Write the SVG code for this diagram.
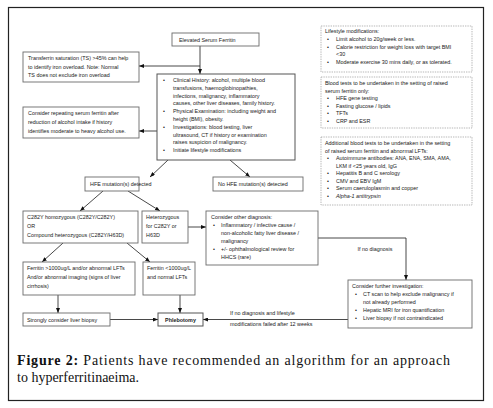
<svg xmlns="http://www.w3.org/2000/svg" width="493" height="408" viewBox="0 0 493 408">
<defs>
<marker id="ah" markerUnits="userSpaceOnUse" markerWidth="5" markerHeight="4" refX="5" refY="2" orient="auto">
<path d="M0,0 L5,2 L0,4 z" fill="#111"/>
</marker>
<style>
.b{fill:#fff;stroke:#6a6a6a;stroke-width:0.9}
.m{fill:#fff;stroke:#555;stroke-width:1}
.d{fill:#fff;stroke:#9a9a9a;stroke-width:0.7;stroke-dasharray:1.4 1}
.t{font-family:"Liberation Sans",Arial,sans-serif;font-size:5.4px;fill:#1a1a1a}
.c{fill:none;stroke:#1a1a1a;stroke-width:0.8;marker-end:url(#ah)}
.cap{font-family:"Liberation Serif","Times New Roman",serif;font-size:14px;fill:#111}
</style>
</defs>
<rect x="0" y="0" width="493" height="408" fill="#fff"/>
<rect x="8.5" y="7.5" width="475" height="393" fill="none" stroke="#222" stroke-width="1.2"/>

<g id="connectors">
<path class="c" d="M200,46 V74"/>
<path class="c" d="M200,66 H139"/>
<path class="c" d="M157,131 H139"/>
<path class="c" d="M168,160 L150,177"/>
<path class="c" d="M230,160 L250,177"/>
<path class="c" d="M103,191 L80,211"/>
<path class="c" d="M128,191 L160,211"/>
<path class="c" d="M188,227 H206"/>
<path class="c" d="M318,238 H406 V280"/>
<path class="c" d="M63,243 L42,262"/>
<path class="c" d="M127,243 L150,262"/>
<path class="c" d="M58,295 V313"/>
<path class="c" d="M180,295 V313"/>
<path class="c" d="M110,319.5 H158"/>
<path class="c" d="M348,319.5 H203"/>
<text class="t" x="375" y="251" text-anchor="middle">If no diagnosis</text>
<text class="t" x="230" y="315">If no diagnosis and lifestyle</text>
<text class="t" x="230" y="326">modifications failed after 12 weeks</text>
</g>

<g id="elevated">
<rect class="b" x="172" y="33" width="87" height="13"/>
<text class="t" x="179" y="41.7">Elevated Serum Ferritin</text>
</g>

<g id="transferrin">
<rect class="b" x="23" y="52" width="116" height="30"/>
<text class="t" x="28" y="60">Transferrin saturation (TS) &gt;45% can help</text>
<text class="t" x="28" y="68.5">to identify iron overload. Note: Normal</text>
<text class="t" x="28" y="77">TS does not exclude iron overload</text>
</g>

<g id="main">
<rect class="m" x="157" y="74" width="138" height="86"/>
<text class="t" x="163" y="82">•</text>
<text class="t" x="173" y="82">Clinical History: alcohol, multiple blood</text>
<text class="t" x="173" y="89.8">transfusions, haemoglobinopathies,</text>
<text class="t" x="173" y="97.6">infections, malignancy, inflammatory</text>
<text class="t" x="173" y="105.4">causes, other liver diseases, family history.</text>
<text class="t" x="163" y="113.2">•</text>
<text class="t" x="173" y="113.2">Physical Examination: including weight and</text>
<text class="t" x="173" y="121">height (BMI), obesity.</text>
<text class="t" x="163" y="128.8">•</text>
<text class="t" x="173" y="128.8">Investigations: blood testing, liver</text>
<text class="t" x="173" y="136.6">ultrasound, CT if history or examination</text>
<text class="t" x="173" y="144.4">raises suspicion of malignancy.</text>
<text class="t" x="163" y="152.2">•</text>
<text class="t" x="173" y="152.2">Initiate lifestyle modifications</text>
</g>

<g id="repeat">
<rect class="b" x="23" y="107" width="116" height="31"/>
<text class="t" x="28" y="115">Consider repeating serum ferritin after</text>
<text class="t" x="28" y="124">reduction of alcohol intake if history</text>
<text class="t" x="28" y="133">identifies moderate to heavy alcohol use.</text>
</g>

<g id="lifestyle">
<rect class="d" x="321" y="26" width="151" height="46"/>
<text class="t" x="325" y="33">Lifestyle modifications:</text>
<text class="t" x="327" y="41">•</text><text class="t" x="336" y="41">Limit alcohol to 20g/week or less.</text>
<text class="t" x="327" y="48.5">•</text><text class="t" x="336" y="48.5">Calorie restriction for weight loss with target BMI</text>
<text class="t" x="336" y="56">&lt;30</text>
<text class="t" x="327" y="63.5">•</text><text class="t" x="336" y="63.5">Moderate exercise 30 mins daily, or as tolerated.</text>
</g>

<g id="bloodtests">
<rect class="d" x="321" y="77" width="151" height="51"/>
<text class="t" x="325" y="85">Blood tests to be undertaken in the setting of raised</text>
<text class="t" x="325" y="92.5">serum ferritin only:</text>
<text class="t" x="327" y="100">•</text><text class="t" x="336" y="100">HFE gene testing</text>
<text class="t" x="327" y="107.5">•</text><text class="t" x="336" y="107.5">Fasting glucose / lipids</text>
<text class="t" x="327" y="115">•</text><text class="t" x="336" y="115">TFTs</text>
<text class="t" x="327" y="122.5">•</text><text class="t" x="336" y="122.5">CRP and ESR</text>
</g>

<g id="additional">
<rect class="d" x="321" y="137" width="151" height="68"/>
<text class="t" x="325" y="145">Additional blood tests to be undertaken in the setting</text>
<text class="t" x="325" y="152.5">of raised serum ferritin and abnormal LFTs:</text>
<text class="t" x="327" y="160">•</text><text class="t" x="336" y="160">Autoimmune antibodies: ANA, ENA, SMA, AMA,</text>
<text class="t" x="336" y="167.5">LKM if &lt;25 years old, IgG</text>
<text class="t" x="327" y="175">•</text><text class="t" x="336" y="175">Hepatitis B and C serology</text>
<text class="t" x="327" y="182.5">•</text><text class="t" x="336" y="182.5">CMV and EBV IgM</text>
<text class="t" x="327" y="190">•</text><text class="t" x="336" y="190">Serum caeruloplasmin and copper</text>
<text class="t" x="327" y="197.5">•</text><text class="t" x="336" y="197.5" font-style="italic">Alpha-1 antitrypsin</text>
</g>

<g id="hfe">
<rect class="b" x="85" y="177" width="54" height="14"/>
<text class="t" x="90" y="186">HFE mutation(s) detected</text>
</g>

<g id="nohfe">
<rect class="b" x="213" y="177" width="90" height="14"/>
<text class="t" x="218" y="186">No HFE mutation(s) detected</text>
</g>

<g id="homozygous">
<rect class="b" x="23" y="211" width="115" height="32"/>
<text class="t" x="27" y="219">C282Y homozygous (C282Y/C282Y)</text>
<text class="t" x="27" y="228">OR</text>
<text class="t" x="27" y="237">Compound heterozygous (C282Y/H63D)</text>
</g>

<g id="heterozygous">
<rect class="b" x="142" y="211" width="46" height="32"/>
<text class="t" x="146" y="219">Heterozygous</text>
<text class="t" x="146" y="228">for C282Y or</text>
<text class="t" x="146" y="237">H63D</text>
</g>

<g id="otherdiag">
<rect class="b" x="206" y="211" width="112" height="54"/>
<text class="t" x="211" y="219">Consider other diagnosis:</text>
<text class="t" x="213" y="227">•</text><text class="t" x="221" y="227">Inflammatory / infective cause /</text>
<text class="t" x="221" y="235">non-alcoholic fatty liver disease /</text>
<text class="t" x="221" y="243">malignancy</text>
<text class="t" x="213" y="251">•</text><text class="t" x="221" y="251">+/- ophthalmological review for</text>
<text class="t" x="221" y="259">HHCS (rare)</text>
</g>

<g id="ferritinhigh">
<rect class="b" x="23" y="262" width="112" height="33"/>
<text class="t" x="27" y="270">Ferritin &gt;1000ug/L and/or abnormal LFTs</text>
<text class="t" x="27" y="279">And/or abnormal imaging (signs of liver</text>
<text class="t" x="27" y="288">cirrhosis)</text>
</g>

<g id="ferritinlow">
<rect class="b" x="143" y="262" width="52" height="33"/>
<text class="t" x="147" y="270">Ferritin &lt;1000ug/L</text>
<text class="t" x="147" y="279">and normal LFTs</text>
</g>

<g id="biopsy">
<rect class="b" x="23" y="313" width="87" height="13"/>
<text class="t" x="27" y="321.5">Strongly consider liver biopsy</text>
</g>

<g id="phlebotomy">
<rect class="m" x="158" y="313" width="45" height="13"/>
<text class="t" x="180.5" y="321.5" text-anchor="middle" font-weight="bold">Phlebotomy</text>
</g>

<g id="further">
<rect class="b" x="348" y="280" width="124" height="48"/>
<text class="t" x="352" y="288">Consider further investigation:</text>
<text class="t" x="355" y="296">•</text><text class="t" x="363" y="296">CT scan to help exclude malignancy if</text>
<text class="t" x="363" y="304">not already performed</text>
<text class="t" x="355" y="312">•</text><text class="t" x="363" y="312">Hepatic MRI for iron quantification</text>
<text class="t" x="355" y="320">•</text><text class="t" x="363" y="320">Liver biopsy if not contraindicated</text>
</g>

<g id="caption">
<text class="cap" x="17" y="365" textLength="433" lengthAdjust="spacing"><tspan font-weight="bold">Figure 2:</tspan> Patients have recommended an algorithm for an approach</text>
<text class="cap" x="17" y="382">to hyperferritinaeima.</text>
</g>
</svg>
